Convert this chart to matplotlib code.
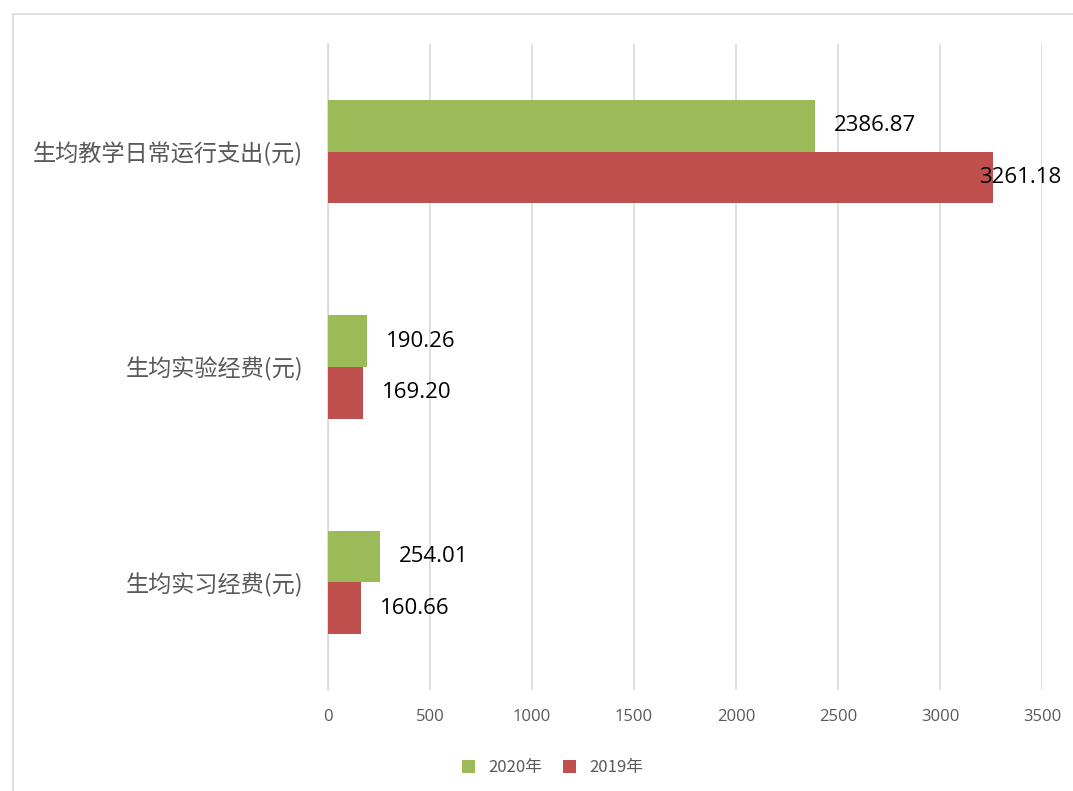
import matplotlib.pyplot as plt
from matplotlib.patches import Rectangle

plt.rcParams['font.family'] = ['Noto Sans CJK SC', 'DejaVu Sans']

categories = ['生均教学日常运行支出(元)', '生均实验经费(元)', '生均实习经费(元)']
series_names = ['2020年', '2019年']
values_2020 = [2386.87, 190.26, 254.01]
values_2019 = [3261.18, 169.20, 160.66]
ticks = [0, 500, 1000, 1500, 2000, 2500, 3000, 3500]

green = '#9BBB59'
red = '#C0504D'
grid_col = '#D9D9D9'
text_col = '#595959'

fig = plt.figure(figsize=(10.73, 7.91), dpi=100)
fig.patches.append(Rectangle((13 / 1073, -0.1), 1.2, 1.1 - 14 / 791,
                             transform=fig.transFigure, fill=False,
                             edgecolor=grid_col, linewidth=1.2))
ax = fig.add_axes([328 / 1073, 1 - 690 / 791, 714 / 1073, 646 / 791])

pos = list(range(len(categories)))
h = 0.24
ax.barh([p - h / 2 for p in pos], values_2020, height=h, color=green, label=series_names[0], zorder=3)
ax.barh([p + h / 2 for p in pos], values_2019, height=h, color=red, label=series_names[1], zorder=3)

ax.set_xlim(0, 3500)
ax.set_ylim(len(categories) - 0.5, -0.5)
ax.set_xticks(ticks)
ax.set_xticklabels([str(t) for t in ticks], fontsize=12, color=text_col, family=['Open Sans', 'DejaVu Sans'])
ax.set_yticks(pos)
ax.set_yticklabels(categories, fontsize=16.7, color=text_col)
ax.tick_params(axis='both', length=0, pad=14)
ax.tick_params(axis='y', pad=18)
ax.grid(axis='x', color=grid_col, linewidth=1.2, zorder=0)
for s in ['top', 'right', 'bottom']:
    ax.spines[s].set_visible(False)
ax.spines['left'].set_color(grid_col)
ax.spines['left'].set_linewidth(1.2)

for vals, off in [(values_2020, -h / 2), (values_2019, h / 2)]:
    for p, v in zip(pos, vals):
        dx = 14
        if v > 3000:
            dx = -10
        ax.annotate(f'{v:.2f}', (v, p + off), xytext=(dx, 0), textcoords='offset points',
                    ha='left', va='center', fontsize=16, color='black',
                    family=['Open Sans', 'DejaVu Sans'], zorder=4, annotation_clip=False)

fig.legend(loc='lower center', bbox_to_anchor=(0.515, 0.0), ncol=2, frameon=False,
           fontsize=12, handlelength=0.8, handleheight=0.8, columnspacing=1.2,
           labelcolor=text_col)

fig.savefig('out.png', dpi=100)
